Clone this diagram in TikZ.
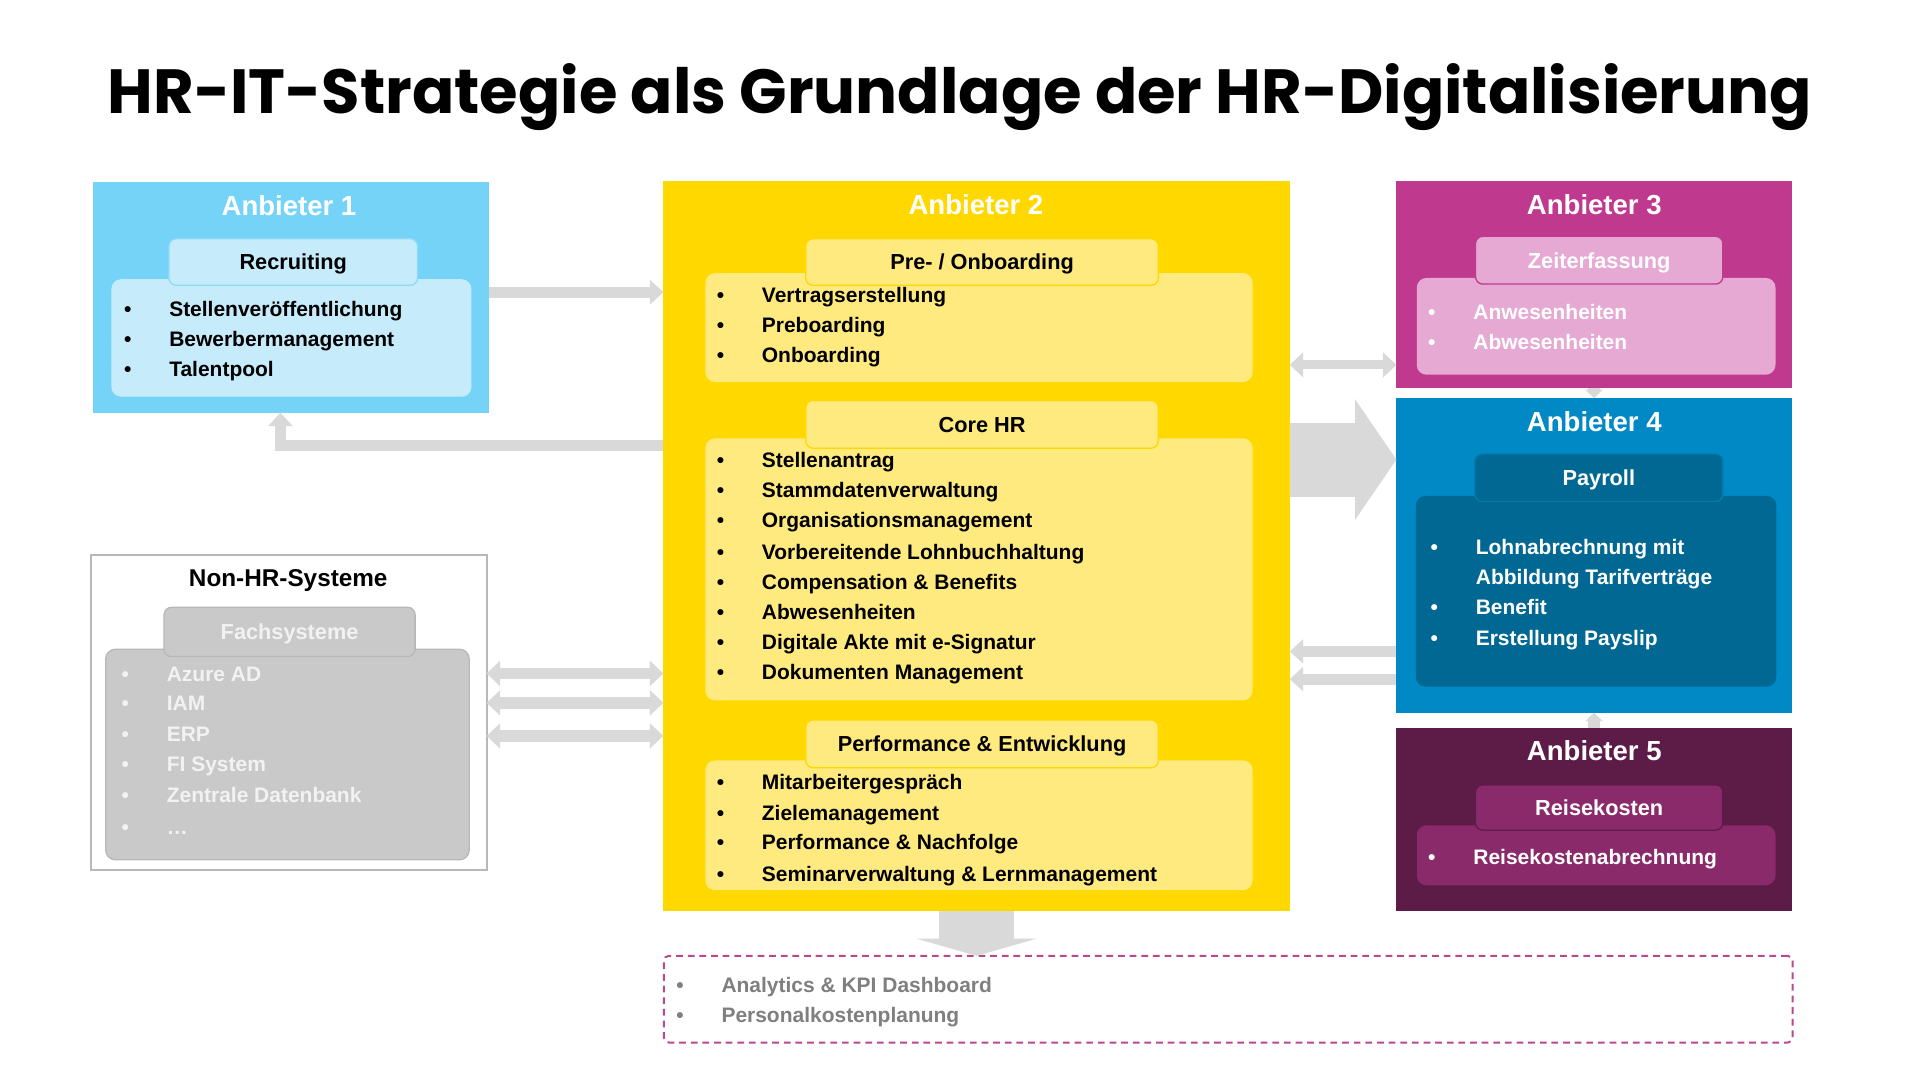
\documentclass[tikz,border=0pt]{standalone}
\usepackage{fontspec}
\setmainfont{Liberation Sans}
\newfontfamily\titlefont{Poppins}
\usepackage{tikz}
\usetikzlibrary{arrows.meta,fit}

\definecolor{skyblue}{HTML}{76D3F8}
\definecolor{skylight}{HTML}{C6ECFB}
\definecolor{sunyellow}{HTML}{FFD800}
\definecolor{sunlight}{HTML}{FFEA7F}
\definecolor{berry}{HTML}{BF3A8E}
\definecolor{berrylight}{HTML}{E6A9D3}
\definecolor{ocean}{HTML}{0089C4}
\definecolor{oceandark}{HTML}{006893}
\definecolor{plum}{HTML}{5D1B47}
\definecolor{plumlight}{HTML}{8B2A6A}
\definecolor{stone}{HTML}{C9C9C9}
\definecolor{stoneline}{HTML}{B8B8B8}
\definecolor{arrowgray}{HTML}{D9D9D9}
\definecolor{dashpink}{HTML}{B9488F}
\definecolor{textgray}{HTML}{7F7F7F}
\definecolor{paleword}{HTML}{F2F2F2}

\newcommand{\hrdot}{\makebox[21pt][l]{\textbullet}}

\tikzset{
  block/.style={inner sep=0pt, outer sep=0pt},
  hrpanel/.style={block, rounded corners=0.16cm, fill=#1},
  hrtab/.style 2 args={block, rounded corners=0.12cm, fill=#1, draw=#2, line width=0.6pt},
  hrlabel/.style={inner sep=0pt, text height=7.3pt, text depth=0pt,
    font=\fontsize{10.1}{12}\selectfont\bfseries},
  hrhead/.style={inner sep=0pt, text height=9.2pt, text depth=0pt, text=white,
    font=\fontsize{12.8}{15}\selectfont\bfseries},
  hritem/.style={anchor=west, inner sep=0pt, text height=7pt, text depth=0pt,
    font=\fontsize{9.75}{12}\selectfont\bfseries},
  flow/.style={draw=arrowgray, line width=0.18cm, -{Triangle[length=0.22cm,width=0.39cm]}},
  twoway/.style={draw=arrowgray, line width=0.19cm,
    {Triangle[length=0.22cm,width=0.4cm]}-{Triangle[length=0.22cm,width=0.4cm]}},
  stub/.style={draw=arrowgray, line width=0.2cm, -{Triangle[length=0.14cm,width=0.28cm]}},
  bigflow/.style={draw=arrowgray, line width=1.21cm, -{Triangle[length=0.68cm,width=1.95cm]}},
  downflow/.style={draw=arrowgray, line width=1.226cm, -{Triangle[length=0.28cm,width=1.95cm]}},
}

\begin{document}
\begin{tikzpicture}[x=0.02cm, y=-0.02cm]
    \fill[white] (0,0) rectangle (1568,882);
    \useasboundingbox (0,0) rectangle (1568,882);

    % title
    \node[inner sep=0pt, text height=20.2pt, text depth=0pt,
        font=\titlefont\bfseries\fontsize{29}{34}\selectfont] (title) at (784,75)
        {HR-IT-Strategie als Grundlage der HR-Digitalisierung};

    % Anbieter 1
    \node[block, fill=skyblue, fit={(76.3,148.9) (399,337)}] (a1) {};
    \node[hrhead] (a1h) at (236,168) {Anbieter 1};
    \node[hrpanel=skylight, fit={(91,228) (385,324)}] (recrbox) {};
    \node[hrtab={skylight}{skyblue!70!skylight}, fit={(138,195) (341,233)}] (recr) {};
    \node[hrlabel] at (recr) {Recruiting};
    \node[hritem] at (101,252) {\hrdot Stellenveröffentlichung};
    \node[hritem] at (101,277) {\hrdot Bewerbermanagement};
    \node[hritem] at (101,301) {\hrdot Talentpool};

    % Anbieter 2
    \node[block, fill=sunyellow, fit={(541.8,148) (1053.3,743.8)}] (a2) {};
    \node[hrhead] (a2h) at (797,167) {Anbieter 2};
    \node[hrpanel=sunlight, fit={(576,223) (1023,312)}] (onbbox) {};
    \node[hrtab={sunlight}{sunyellow}, fit={(658,195) (946,233)}] (onb) {};
    \node[hrlabel] at (onb) {Pre- / Onboarding};
    \node[hritem] at (585,241) {\hrdot Vertragserstellung};
    \node[hritem] at (585,265) {\hrdot Preboarding};
    \node[hritem] at (585,290) {\hrdot Onboarding};
    \node[hrpanel=sunlight, fit={(576,358) (1023,572)}] (corebox) {};
    \node[hrtab={sunlight}{sunyellow}, fit={(658,327) (946,366)}] (core) {};
    \node[hrlabel] at (core) {Core HR};
    \node[hritem] at (585,376) {\hrdot Stellenantrag};
    \node[hritem] at (585,400) {\hrdot Stammdatenverwaltung};
    \node[hritem] at (585,425) {\hrdot Organisationsmanagement};
    \node[hritem] at (585,451) {\hrdot Vorbereitende Lohnbuchhaltung};
    \node[hritem] at (585,475) {\hrdot Compensation \& Benefits};
    \node[hritem] at (585,500) {\hrdot Abwesenheiten};
    \node[hritem] at (585,524) {\hrdot Digitale Akte mit e-Signatur};
    \node[hritem] at (585,549) {\hrdot Dokumenten Management};
    \node[hrpanel=sunlight, fit={(576,621) (1023,727)}] (perfbox) {};
    \node[hrtab={sunlight}{sunyellow}, fit={(658,588) (946,627)}] (perf) {};
    \node[hrlabel] at (perf) {Performance \& Entwicklung};
    \node[hritem] at (585,639) {\hrdot Mitarbeitergespräch};
    \node[hritem] at (585,664) {\hrdot Zielemanagement};
    \node[hritem] at (585,688) {\hrdot Performance \& Nachfolge};
    \node[hritem] at (585,714) {\hrdot Seminarverwaltung \& Lernmanagement};

    % Anbieter 3
    \node[block, fill=berry, fit={(1140.4,148) (1463.2,316.6)}] (a3) {};
    \node[hrhead] (a3h) at (1302,167) {Anbieter 3};
    \node[hrpanel=berrylight, fit={(1157,227) (1450,306)}] (zeitbox) {};
    \node[hrtab={berrylight}{berry}, fit={(1205,193) (1407,232)}] (zeit) {};
    \node[hrlabel, text=white] at (zeit) {Zeiterfassung};
    \node[hritem, text=white] at (1166,255) {\hrdot Anwesenheiten};
    \node[hritem, text=white] at (1166,279) {\hrdot Abwesenheiten};

    % Anbieter 4
    \node[block, fill=ocean, fit={(1140.4,325.2) (1463.2,582)}] (a4) {};
    \node[hrhead] (a4h) at (1302,344) {Anbieter 4};
    \node[hrpanel=oceandark, fit={(1156.2,405) (1450.7,560.7)}] (paybox) {};
    \node[hrtab={oceandark}{ocean!60!oceandark}, fit={(1204.4,370.8) (1407,409.6)}] (pay) {};
    \node[hrlabel, text=white] at (pay) {Payroll};
    \node[hritem, text=white] at (1168,447) {\hrdot Lohnabrechnung mit};
    \node[hritem, text=white] at (1205,471) {Abbildung Tarifverträge};
    \node[hritem, text=white] at (1168,496) {\hrdot Benefit};
    \node[hritem, text=white] at (1168,521) {\hrdot Erstellung Payslip};

    % Anbieter 5
    \node[block, fill=plum, fit={(1140.4,594.7) (1463.2,743.8)}] (a5) {};
    \node[hrhead] (a5h) at (1302,613) {Anbieter 5};
    \node[hrpanel=plumlight, fit={(1157,674) (1450,723)}] (reisebox) {};
    \node[hrtab={plumlight}{plum}, fit={(1205,641) (1407,678)}] (reise) {};
    \node[hrlabel, text=white] at (reise) {Reisekosten};
    \node[hritem, text=white] at (1166,700) {\hrdot Reisekostenabrechnung};

    % Non-HR-Systeme
    \node[block, fill=white, draw=stoneline, line width=0.9pt, fit={(74,453) (397.4,710.4)}] (nonhr) {};
    \node[hrhead, text=black, font=\fontsize{11.3}{14}\selectfont\bfseries] (nonhrh) at (235.4,471) {Non-HR-Systeme};
    \node[hrpanel=stone, draw=stoneline, line width=0.6pt, fit={(86.3,530.2) (383.2,702.2)}] (fachbox) {};
    \node[hrtab={stone}{stoneline}, fit={(134,496) (339,536.2)}] (fach) {};
    \node[hrlabel, text=paleword] at (fach) {Fachsysteme};
    \node[hritem, text=paleword] at (99,550) {\hrdot Azure AD};
    \node[hritem, text=paleword] at (99,574) {\hrdot IAM};
    \node[hritem, text=paleword] at (99,599) {\hrdot ERP};
    \node[hritem, text=paleword] at (99,624) {\hrdot FI System};
    \node[hritem, text=paleword] at (99,649) {\hrdot Zentrale Datenbank};
    \node[hritem, text=paleword] at (99,675) {\hrdot …};

    % weitere Themen
    \node[block, draw=dashpink, dash pattern=on 0.11cm off 0.08cm, line width=0.9pt,
        rounded corners=0.08cm, fit={(542.2,780.6) (1464,851.4)}] (extra) {};
    \node[hritem, text=textgray] at (552,804.3) {\hrdot Analytics \& KPI Dashboard};
    \node[hritem, text=textgray] at (552,828.8) {\hrdot Personalkostenplanung};

    % Schnittstellen
    \coordinate (lvlA) at (0,238.6);
    \coordinate (lvlB) at (0,363.7);
    \coordinate (colB) at (229,0);
    \coordinate (lvlC) at (0,298);
    \coordinate (lvlD) at (0,375.3);
    \coordinate (lvlE) at (0,532);
    \coordinate (lvlF) at (0,554.6);
    \coordinate (lvlG) at (0,550);
    \coordinate (lvlH) at (0,574);
    \coordinate (lvlI) at (0,601);
    \draw[flow] (a1.east |- lvlA) -- (a2.west |- lvlA);
    \draw[flow] (a2.west |- lvlB) -| (colB |- a1.south);
    \draw[twoway, line width=0.15cm] (a2.east |- lvlC) -- (a3.west |- lvlC);
    \draw[bigflow] (a2.east |- lvlD) -- (a4.west |- lvlD);
    \draw[flow] (a4.west |- lvlE) -- (a2.east |- lvlE);
    \draw[flow] (a4.west |- lvlF) -- (a2.east |- lvlF);
    \draw[twoway] (nonhr.east |- lvlG) -- (a2.west |- lvlG);
    \draw[twoway] (nonhr.east |- lvlH) -- (a2.west |- lvlH);
    \draw[twoway] (nonhr.east |- lvlI) -- (a2.west |- lvlI);
    \draw[stub] (a3.south) -- (a4.north);
    \draw[stub] (a5.north) -- (a4.south);
    \draw[downflow] (a2.south) -- (extra.north -| a2.south);
\end{tikzpicture}
\end{document}
